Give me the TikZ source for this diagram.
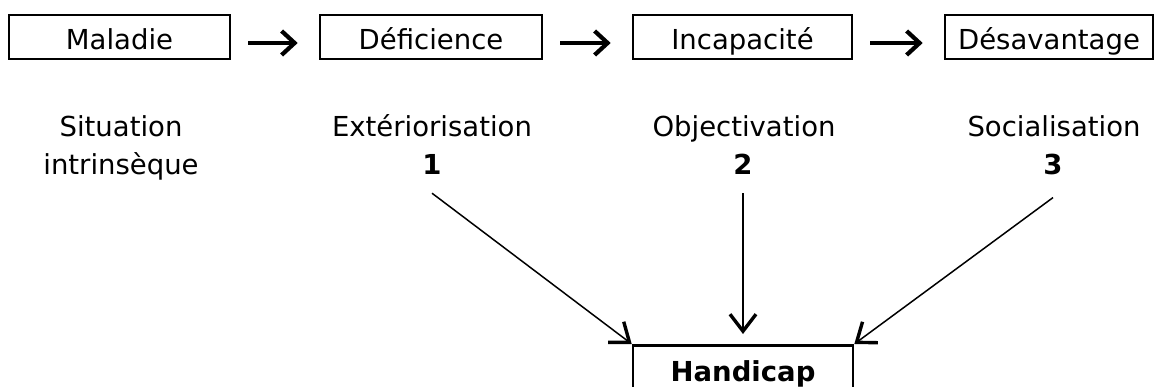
\documentclass[tikz,border=0pt]{standalone}
\usepackage{fontspec}
\setmainfont{DejaVu Sans}
\usetikzlibrary{arrows.meta}

\colorlet{figLine}{black}
\colorlet{figText}{black}

\tikzset{
  box/.style={draw=figLine, line width=2.6pt, minimum width=221pt, minimum height=44pt,
              inner sep=0pt, text height=28pt, text depth=2pt, text=figText,
              font=\fontsize{27.5}{32}\selectfont},
  lbl/.style={anchor=base, inner sep=0pt, text=figText, font=\fontsize{27.5}{32}\selectfont},
  num/.style={lbl, font=\fontsize{27.5}{32}\selectfont\bfseries},
  flow/.style={figLine, line width=3.2pt, shorten <=17pt, shorten >=21pt,
               -{Straight Barb[length=13pt, width=24pt, line width=4.2pt]}},
  link/.style={figLine, line width=1.5pt,
               -{Straight Barb[length=17pt, width=26pt, line width=3.4pt]}}
}

\begin{document}
\begin{tikzpicture}[x=1pt,y=-1pt]
        \useasboundingbox (0,0) rectangle (1158,387);
        \clip (0,0) rectangle (1158,387);
        \node[box] (maladie) at (119.5,37) {Maladie};
        \node[box, minimum width=222pt] (deficience) at (431,37) {Déficience};
        \node[box, minimum width=219pt] (incapacite) at (742.5,37) {Incapacité};
        \node[box, minimum width=208pt] (desavantage) at (1049,37) {Désavantage};
        \draw[flow] ([yshift=-6pt]maladie.east) -- ([yshift=-6pt]deficience.west);
        \draw[flow] ([yshift=-6pt]deficience.east) -- ([yshift=-6pt]incapacite.west);
        \draw[flow] ([yshift=-6pt]incapacite.east) -- ([yshift=-6pt]desavantage.west);

        \node[lbl] (situation) at (121,137) {Situation};
        \node[lbl] (intrinseque) at (121,175) {intrinsèque};
        \node[lbl] (exteriorisation) at (432,137) {Extériorisation};
        \node[num] (un) at (432,175) {1};
        \node[lbl] (objectivation) at (744,137) {Objectivation};
        \node[num] (deux) at (743,175) {2};
        \node[lbl] (socialisation) at (1054,137) {Socialisation};
        \node[num] (trois) at (1053,175) {3};

        \node[box, anchor=north, minimum width=220pt, minimum height=50pt,
              text height=22pt, text depth=0pt,
              font=\fontsize{27.5}{32}\selectfont\bfseries] (handicap) at (743,344) {Handicap};
        \draw[link] ([yshift=-18pt]un.south) -- (handicap.north west);
        \draw[link] ([yshift=-18pt]deux.south) -- ([yshift=10pt]handicap.north);
        \draw[link] ([yshift=-22pt]trois.south) -- (handicap.north east);
      \end{tikzpicture}
\end{document}
